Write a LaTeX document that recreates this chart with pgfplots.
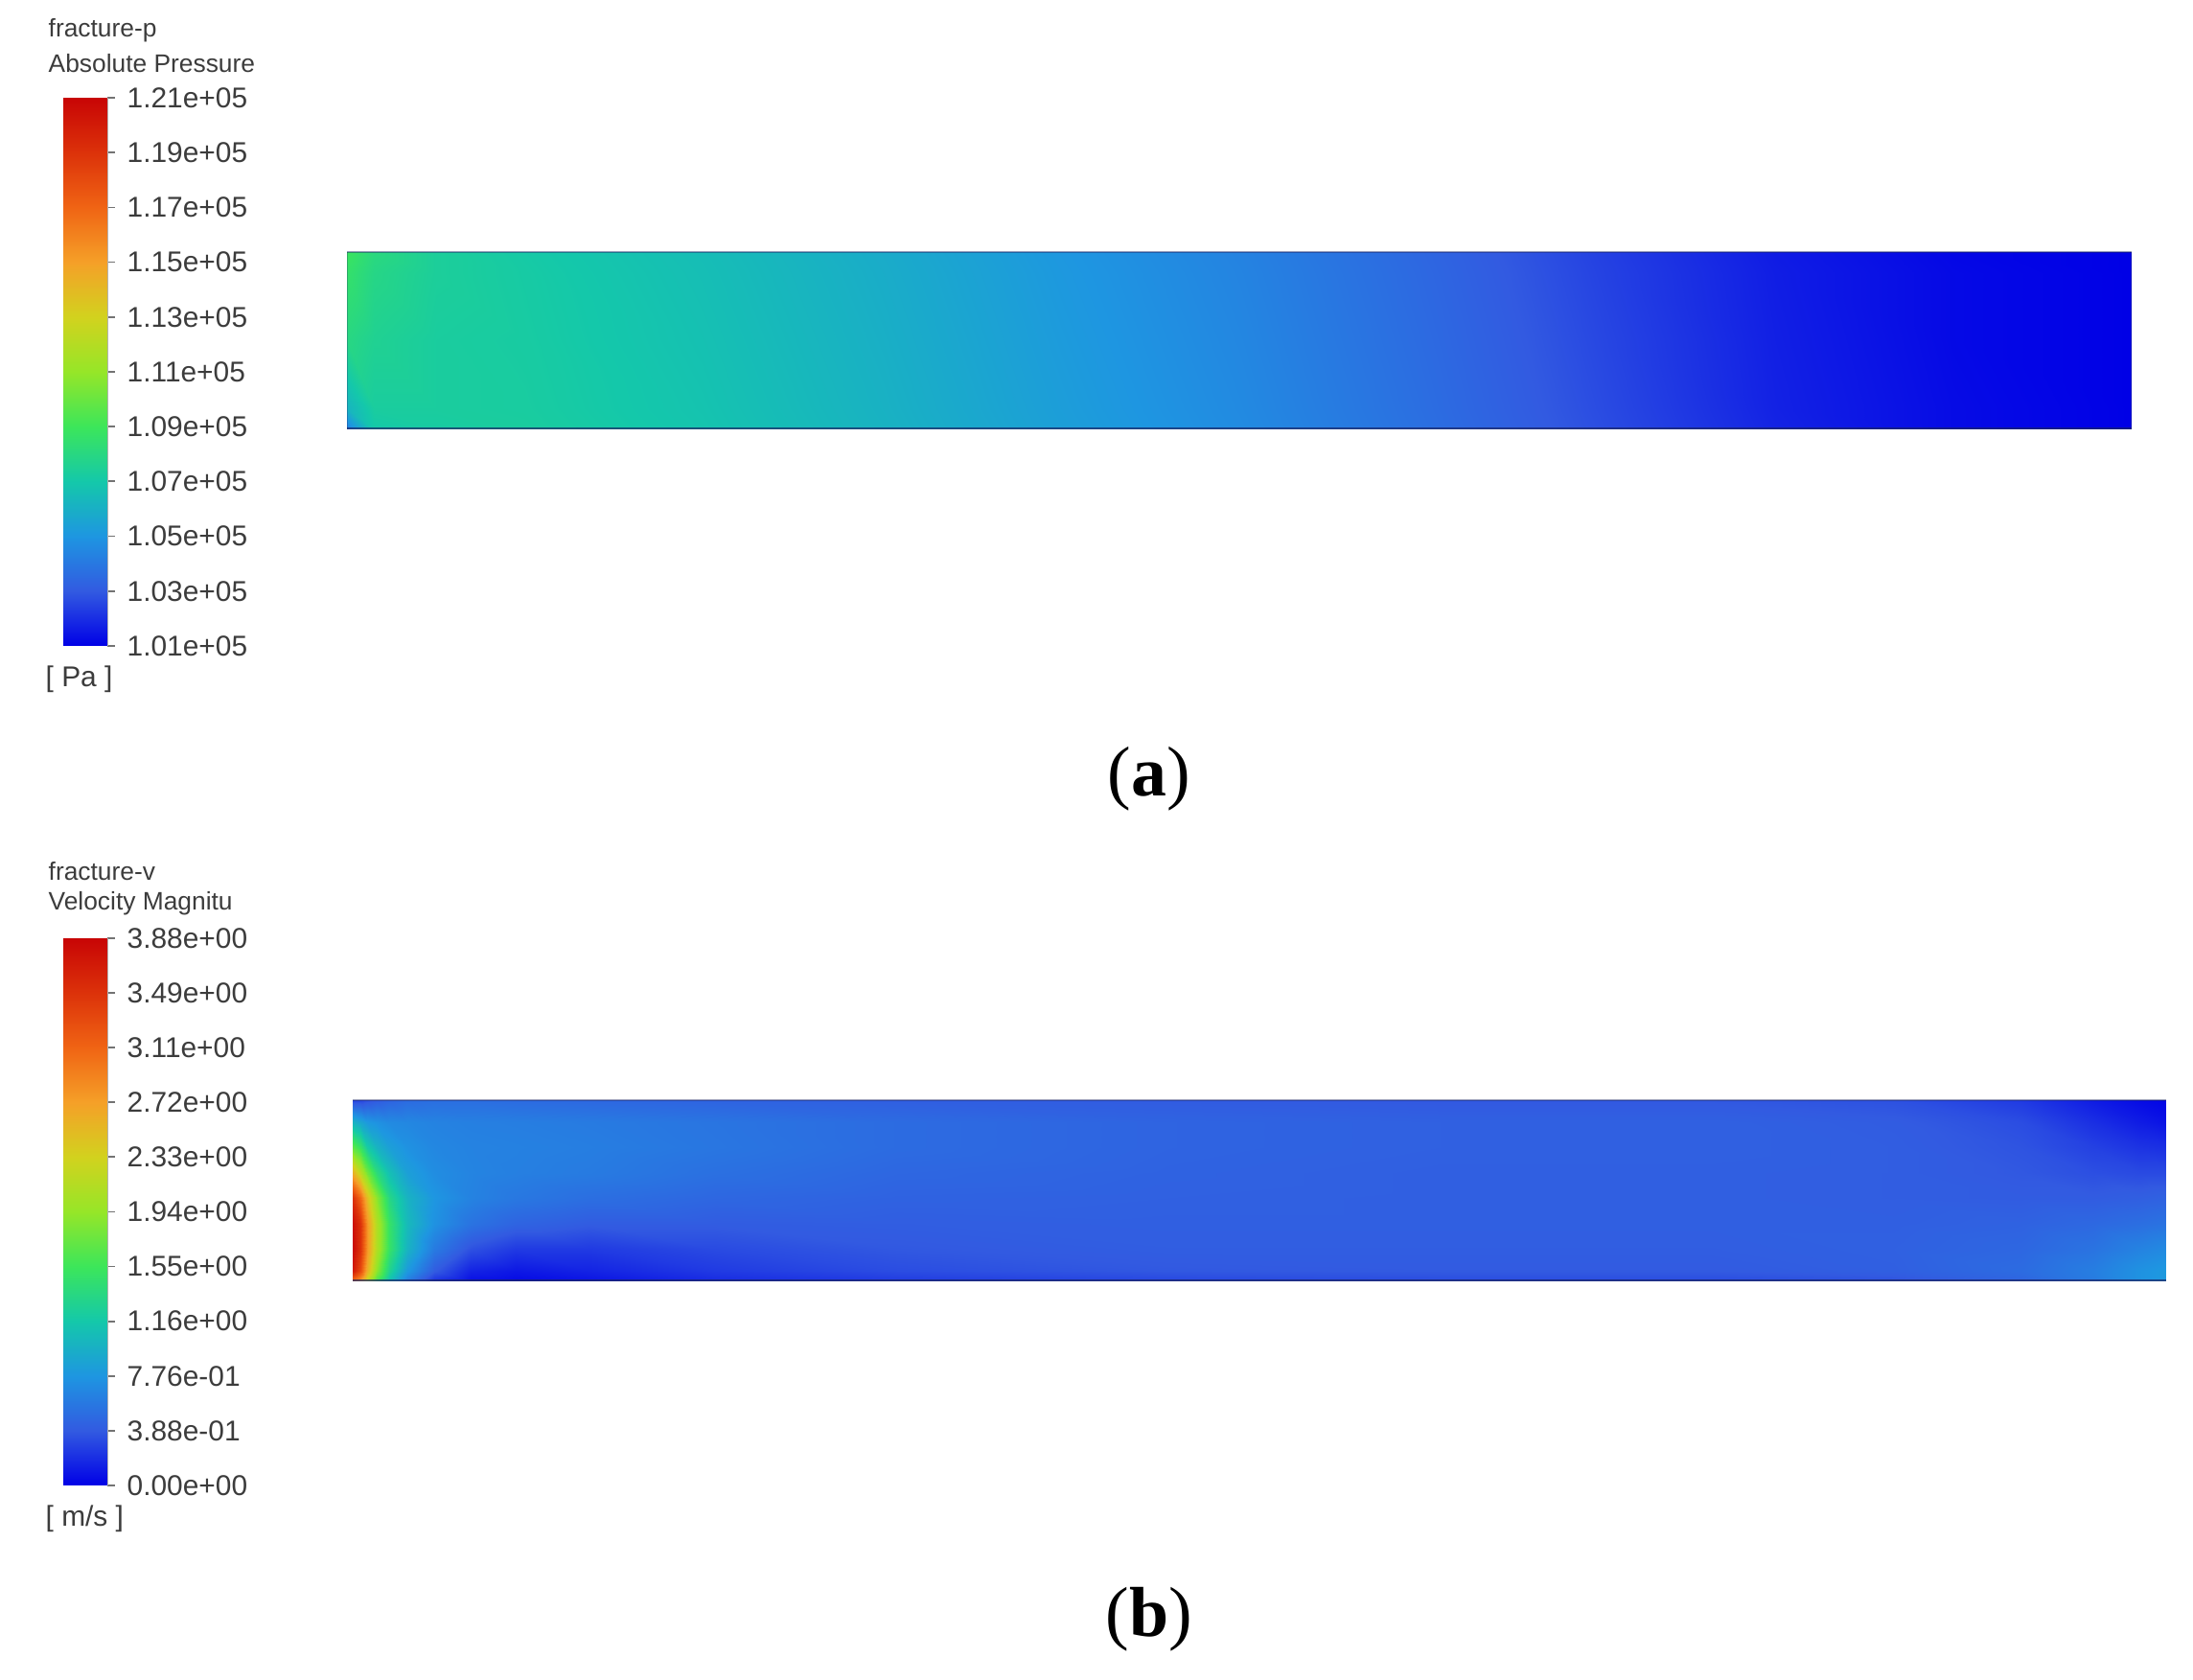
\documentclass[border=0pt]{standalone}
\usepackage{fontspec}
\setmainfont{Liberation Sans}
\newfontfamily\capfont{Liberation Serif}
\usepackage{pgfplots}
\usepackage{pgfplotstable}
\pgfplotsset{compat=1.18}

\definecolor{labgray}{RGB}{60,60,60}
\definecolor{edgenavy}{RGB}{25,35,100}

\pgfplotsset{
  colormap={fluent}{rgb255=(0,0,230) rgb255=(50,90,225) rgb255=(30,150,225)
    rgb255=(20,200,170) rgb255=(60,230,90) rgb255=(150,230,40) rgb255=(210,210,30)
    rgb255=(245,160,40) rgb255=(240,100,20) rgb255=(220,50,10) rgb255=(200,5,5)},
  field/.style={scale only axis, anchor=south west, hide axis,
    xmin=0, xmax=1, ymin=0, ymax=1, colormap name=fluent},
  cbar/.style={scale only axis, anchor=south west, width=4.6mm,
    xmin=0, xmax=1, axis x line=none, axis y line*=right,
    scaled y ticks=false,
    tick align=outside, major tick length=0.8mm,
    axis line style={draw=black!30, line width=0.3pt},
    ytick style={black!55, line width=0.5pt},
    yticklabel style={font=\fontsize{8.5}{10}\selectfont, text=labgray,
      anchor=west, inner sep=0pt, xshift=1.2mm},
    colormap name=fluent, clip=false},
}

% absolute pressure [Pa], x along fracture, y across (0 = bottom)
\pgfplotstableread[row sep=\\]{
x y p\\
0 0 104200\\ 0.015 0 107000\\ 0.05 0 107200\\ 0.1 0 107300\\ 0.2 0 106850\\ 0.3 0 106150\\ 0.4 0 105350\\ 0.5 0 104650\\ 0.6 0 103750\\ 0.7 0 102750\\ 0.8 0 101800\\ 0.9 0 101250\\ 1 0 101000\\
0 0.12 106200\\ 0.015 0.12 107300\\ 0.05 0.12 107300\\ 0.1 0.12 107250\\ 0.2 0.12 106800\\ 0.3 0.12 106100\\ 0.4 0.12 105300\\ 0.5 0.12 104600\\ 0.6 0.12 103700\\ 0.7 0.12 102700\\ 0.8 0.12 101750\\ 0.9 0.12 101250\\ 1 0.12 101000\\
0 0.5 108000\\ 0.015 0.5 107600\\ 0.05 0.5 107300\\ 0.1 0.5 107200\\ 0.2 0.5 106700\\ 0.3 0.5 106000\\ 0.4 0.5 105200\\ 0.5 0.5 104500\\ 0.6 0.5 103600\\ 0.7 0.5 102600\\ 0.8 0.5 101700\\ 0.9 0.5 101200\\ 1 0.5 101000\\
0 0.88 108600\\ 0.015 0.88 107900\\ 0.05 0.88 107400\\ 0.1 0.88 107150\\ 0.2 0.88 106600\\ 0.3 0.88 105900\\ 0.4 0.88 105100\\ 0.5 0.88 104400\\ 0.6 0.88 103500\\ 0.7 0.88 102500\\ 0.8 0.88 101650\\ 0.9 0.88 101200\\ 1 0.88 101000\\
0 1 108900\\ 0.015 1 108100\\ 0.05 1 107400\\ 0.1 1 107100\\ 0.2 1 106550\\ 0.3 1 105850\\ 0.4 1 105050\\ 0.5 1 104350\\ 0.6 1 103450\\ 0.7 1 102450\\ 0.8 1 101600\\ 0.9 1 101150\\ 1 1 101000\\
}\pressure

% velocity magnitude [m/s]
\pgfplotstableread[row sep=\\]{
x y v\\
0 0 3.0\\ 0.004 0 2.7\\ 0.008 0 2.2\\ 0.013 0 1.6\\ 0.02 0 1.1\\ 0.03 0 0.6\\ 0.045 0 0.2\\ 0.065 0 0.06\\ 0.09 0 0.04\\ 0.13 0 0.08\\ 0.2 0 0.18\\ 0.3 0 0.25\\ 0.45 0 0.3\\ 0.6 0 0.32\\ 0.75 0 0.32\\ 0.85 0 0.35\\ 0.92 0 0.45\\ 0.96 0 0.6\\ 0.985 0 0.75\\ 1 0 0.8\\
0 0.06 3.7\\ 0.004 0.06 3.3\\ 0.008 0.06 2.6\\ 0.013 0.06 1.9\\ 0.02 0.06 1.3\\ 0.03 0.06 0.8\\ 0.045 0.06 0.4\\ 0.065 0.06 0.15\\ 0.09 0.06 0.1\\ 0.13 0.06 0.15\\ 0.2 0.06 0.25\\ 0.3 0.06 0.33\\ 0.45 0.06 0.38\\ 0.6 0.06 0.39\\ 0.75 0.06 0.39\\ 0.85 0.06 0.42\\ 0.92 0.06 0.5\\ 0.96 0.06 0.62\\ 0.985 0.06 0.75\\ 1 0.06 0.8\\
0 0.18 3.85\\ 0.004 0.18 3.5\\ 0.008 0.18 2.8\\ 0.013 0.18 2.1\\ 0.02 0.18 1.5\\ 0.03 0.18 1.0\\ 0.045 0.18 0.6\\ 0.065 0.18 0.35\\ 0.09 0.18 0.25\\ 0.13 0.18 0.25\\ 0.2 0.18 0.32\\ 0.3 0.18 0.38\\ 0.45 0.18 0.41\\ 0.6 0.18 0.41\\ 0.75 0.18 0.41\\ 0.85 0.18 0.43\\ 0.92 0.18 0.47\\ 0.96 0.18 0.55\\ 0.985 0.18 0.65\\ 1 0.18 0.7\\
0 0.32 3.8\\ 0.004 0.32 3.5\\ 0.008 0.32 2.8\\ 0.013 0.32 2.1\\ 0.02 0.32 1.5\\ 0.03 0.32 1.05\\ 0.045 0.32 0.75\\ 0.065 0.32 0.55\\ 0.09 0.32 0.45\\ 0.13 0.32 0.4\\ 0.2 0.32 0.4\\ 0.3 0.32 0.41\\ 0.45 0.32 0.42\\ 0.6 0.32 0.42\\ 0.75 0.32 0.42\\ 0.85 0.32 0.42\\ 0.92 0.32 0.44\\ 0.96 0.32 0.48\\ 0.985 0.32 0.52\\ 1 0.32 0.55\\
0 0.46 3.5\\ 0.004 0.46 3.1\\ 0.008 0.46 2.5\\ 0.013 0.46 1.9\\ 0.02 0.46 1.35\\ 0.03 0.46 1.0\\ 0.045 0.46 0.78\\ 0.065 0.46 0.65\\ 0.09 0.46 0.58\\ 0.13 0.46 0.52\\ 0.2 0.46 0.47\\ 0.3 0.46 0.44\\ 0.45 0.46 0.43\\ 0.6 0.46 0.42\\ 0.75 0.46 0.42\\ 0.85 0.46 0.41\\ 0.92 0.46 0.4\\ 0.96 0.46 0.4\\ 0.985 0.46 0.42\\ 1 0.46 0.44\\
0 0.6 2.6\\ 0.004 0.6 2.2\\ 0.008 0.6 1.8\\ 0.013 0.6 1.4\\ 0.02 0.6 1.1\\ 0.03 0.6 0.85\\ 0.045 0.6 0.72\\ 0.065 0.6 0.66\\ 0.09 0.6 0.63\\ 0.13 0.6 0.6\\ 0.2 0.6 0.53\\ 0.3 0.6 0.47\\ 0.45 0.6 0.44\\ 0.6 0.6 0.42\\ 0.75 0.6 0.42\\ 0.85 0.6 0.41\\ 0.92 0.6 0.38\\ 0.96 0.6 0.34\\ 0.985 0.6 0.32\\ 1 0.6 0.32\\
0 0.74 1.7\\ 0.004 0.74 1.5\\ 0.008 0.74 1.2\\ 0.013 0.74 1.0\\ 0.02 0.74 0.85\\ 0.03 0.74 0.75\\ 0.045 0.74 0.68\\ 0.065 0.74 0.65\\ 0.09 0.74 0.64\\ 0.13 0.74 0.62\\ 0.2 0.74 0.57\\ 0.3 0.74 0.5\\ 0.45 0.74 0.45\\ 0.6 0.74 0.43\\ 0.75 0.74 0.43\\ 0.85 0.74 0.41\\ 0.92 0.74 0.36\\ 0.96 0.74 0.28\\ 0.985 0.74 0.22\\ 1 0.74 0.2\\
0 0.88 1.0\\ 0.004 0.88 0.9\\ 0.008 0.88 0.8\\ 0.013 0.88 0.75\\ 0.02 0.88 0.7\\ 0.03 0.88 0.68\\ 0.045 0.88 0.65\\ 0.065 0.88 0.63\\ 0.09 0.88 0.62\\ 0.13 0.88 0.6\\ 0.2 0.88 0.56\\ 0.3 0.88 0.5\\ 0.45 0.88 0.45\\ 0.6 0.88 0.43\\ 0.75 0.88 0.43\\ 0.85 0.88 0.4\\ 0.92 0.88 0.33\\ 0.96 0.88 0.2\\ 0.985 0.88 0.12\\ 1 0.88 0.08\\
0 1 0.3\\ 0.004 1 0.3\\ 0.008 1 0.35\\ 0.013 1 0.4\\ 0.02 1 0.45\\ 0.03 1 0.5\\ 0.045 1 0.52\\ 0.065 1 0.52\\ 0.09 1 0.5\\ 0.13 1 0.48\\ 0.2 1 0.45\\ 0.3 1 0.42\\ 0.45 1 0.4\\ 0.6 1 0.38\\ 0.75 1 0.38\\ 0.85 1 0.35\\ 0.92 1 0.25\\ 0.96 1 0.12\\ 0.985 1 0.05\\ 1 1 0.02\\
}\velocity

\begin{document}
\begin{tikzpicture}
\path[use as bounding box] (0,0) rectangle (228.8mm,175.3mm);

% ---------- (a) pressure ----------
\begin{axis}[cbar, at={(6.6mm,107.9mm)}, height=57.2mm,
  ymin=101000, ymax=121000, point meta min=101000, point meta max=121000,
  ytick={101000,103000,105000,107000,109000,111000,113000,115000,117000,119000,121000},
  yticklabels={1.01e+05,1.03e+05,1.05e+05,1.07e+05,1.09e+05,1.11e+05,1.13e+05,1.15e+05,1.17e+05,1.19e+05,1.21e+05}]
  \addplot[surf, shader=interp, point meta=y, mesh/rows=2, mesh/cols=2]
    coordinates {(0,101000) (1,101000) (0,121000) (1,121000)};
\end{axis}

\begin{axis}[field, at={(36.2mm,130.5mm)}, width=186.2mm, height=18.5mm,
  point meta min=101000, point meta max=121000]
  \addplot[surf, shader=interp, mesh/rows=5, mesh/cols=13, point meta=\thisrow{p}]
    table[x=x, y=y] {\pressure};
  \draw[edgenavy, opacity=0.7, line width=0.45mm] (rel axis cs:0,0) -- (rel axis cs:1,0);
  \draw[edgenavy, opacity=0.45, line width=0.25mm] (rel axis cs:0,1) -- (rel axis cs:1,1);
  \draw[edgenavy, opacity=0.3, line width=0.15mm] (rel axis cs:0,0) -- (rel axis cs:0,1)
    (rel axis cs:1,0) -- (rel axis cs:1,1);
\end{axis}

\node[anchor=west, inner sep=0pt, text=labgray, font=\fontsize{7.5}{9}\selectfont] at (5.0mm,172.1mm) {fracture-p};
\node[anchor=west, inner sep=0pt, text=labgray, font=\fontsize{7.5}{9}\selectfont] at (5.0mm,168.7mm) {Absolute Pressure};
\node[anchor=west, inner sep=0pt, text=labgray, font=\fontsize{8.5}{10}\selectfont] at (4.7mm,104.4mm) {[ Pa ]};
\node[font=\capfont\fontsize{21}{24}\selectfont] at (119.9mm,94.0mm) {(\textbf{a})};

% ---------- (b) velocity ----------
\begin{axis}[cbar, at={(6.6mm,20.3mm)}, height=57.1mm,
  ymin=0, ymax=3.88, point meta min=0, point meta max=3.88,
  ytick={0,0.388,0.776,1.164,1.552,1.94,2.328,2.716,3.104,3.492,3.88},
  yticklabels={0.00e+00,3.88e-01,7.76e-01,1.16e+00,1.55e+00,1.94e+00,2.33e+00,2.72e+00,3.11e+00,3.49e+00,3.88e+00}]
  \addplot[surf, shader=interp, point meta=y, mesh/rows=2, mesh/cols=2]
    coordinates {(0,0) (1,0) (0,3.88) (1,3.88)};
\end{axis}

\begin{axis}[field, at={(36.8mm,41.6mm)}, width=189.2mm, height=18.9mm,
  point meta min=0, point meta max=3.88]
  \addplot[surf, shader=interp, mesh/rows=9, mesh/cols=20, point meta=\thisrow{v}]
    table[x=x, y=y] {\velocity};
  \draw[edgenavy, opacity=0.7, line width=0.45mm] (rel axis cs:0,0) -- (rel axis cs:1,0);
  \draw[edgenavy, opacity=0.45, line width=0.25mm] (rel axis cs:0,1) -- (rel axis cs:1,1);
\end{axis}

\node[anchor=west, inner sep=0pt, text=labgray, font=\fontsize{7.5}{9}\selectfont] at (5.0mm,84.4mm) {fracture-v};
\node[anchor=west, inner sep=0pt, text=labgray, font=\fontsize{7.5}{9}\selectfont] at (5.0mm,81.0mm) {Velocity Magnitu};
\node[anchor=west, inner sep=0pt, text=labgray, font=\fontsize{8.5}{10}\selectfont] at (4.7mm,16.8mm) {[ m/s ]};
\node[font=\capfont\fontsize{21}{24}\selectfont] at (119.9mm,6.3mm) {(\textbf{b})};
\end{tikzpicture}
\end{document}
